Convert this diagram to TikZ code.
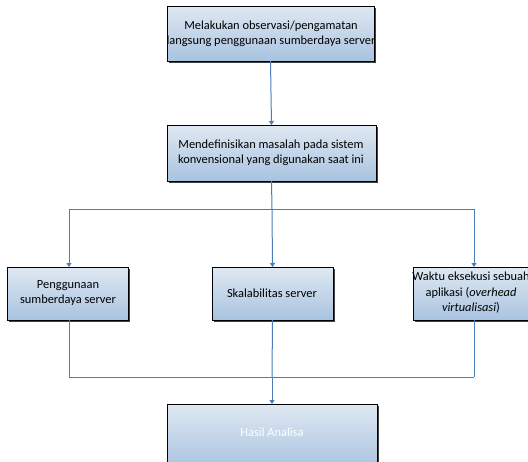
\documentclass[tikz,border=0pt]{standalone}
\usepackage{fontspec}
\setmainfont{Carlito}
\usetikzlibrary{arrows.meta}
\definecolor{linkblue}{HTML}{4A7EBB}
\definecolor{boxtop}{HTML}{DFE8F2}
\definecolor{boxbot}{HTML}{A8C3E0}
\tikzset{
  flowbox/.style={draw=black, line width=0.9pt, top color=boxtop, bottom color=boxbot},
  boxtext/.style={align=center, font=\fontsize{12.4}{15.5}\selectfont, inner sep=0pt},
  shade/.style={fill=black!75, draw=none},
  link/.style={draw=linkblue, line width=1pt},
  tip/.style={-{Triangle[width=5pt,length=4pt]}}
}
\newcommand{\flowrect}[5]{%
  % #1 name, #2 left, #3 top, #4 right, #5 bottom
  \fill[shade] (#2+1.5,#3+1.5) rectangle (#4+1.5,#5+1.5);
  \path[flowbox] (#2,#3) rectangle (#4,#5);
  \coordinate (#1-n) at ({(#2+#4)/2},#3);
  \coordinate (#1-s) at ({(#2+#4)/2},#5);
}
\begin{document}
\begin{tikzpicture}[x=1pt,y=-1pt]
  \useasboundingbox (0,0) rectangle (528,461);
  \clip (0,0) rectangle (528,461);
  \fill[white] (0,0) rectangle (528,461);

  % boxes
  \flowrect{obs}{167}{6}{374}{61}
  \node[boxtext] (tobs) at (271,34) {Melakukan observasi/pengamatan\\langsung penggunaan sumberdaya server};

  \flowrect{def}{167}{125}{376}{181}
  \node[boxtext] (tdef) at (271,153) {Mendefinisikan masalah pada sistem\\konvensional yang digunakan saat ini};

  \flowrect{use}{7}{267}{128}{320}
  \node[boxtext] (tuse) at (68,293) {Penggunaan\\sumberdaya server};

  \flowrect{scl}{212}{267}{333}{320}
  \node[boxtext] (tscl) at (272,293) {Skalabilitas server};

  \flowrect{tim}{413}{267}{535}{320}
  \node[boxtext] (ttim) at (471,293) {Waktu eksekusi sebuah\\aplikasi (\textit{overhead}\\\textit{virtualisasi})};

  \flowrect{res}{167}{404}{377}{470}
  \node[boxtext, text=white] (tres) at (272,432) {Hasil Analisa};

  % branch points
  \coordinate (split) at (272,209);
  \coordinate (splitL) at (69,209);
  \coordinate (splitR) at (474,209);
  \coordinate (joinL) at (69,377);
  \coordinate (joinR) at (474,377);
  \coordinate (joinC) at (272,377);

  % connectors
  \draw[link,tip] (obs-s) -- (def-n);
  \draw[link] (def-s) -- (split);
  \draw[link] (splitL) -- (splitR);
  \draw[link,tip] (splitL) -- (splitL |- use-n);
  \draw[link,tip] (split) -- (scl-n);
  \draw[link,tip] (splitR) -- (splitR |- tim-n);

  \draw[link] (splitL |- use-s) -- (joinL);
  \draw[link] (splitR |- tim-s) -- (joinR);
  \draw[link] (joinL) -- (joinR);
  \draw[link] (scl-s) -- (joinC);
  \draw[link,tip] (joinC) -- (res-n);
\end{tikzpicture}
\end{document}
